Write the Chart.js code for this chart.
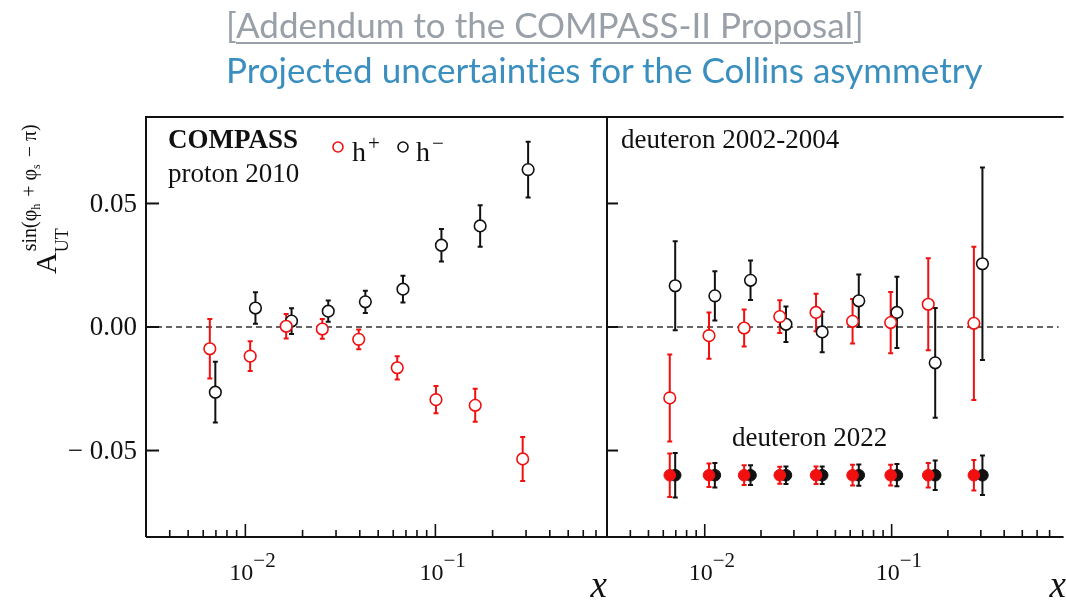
<!DOCTYPE html>
<html>
<head>
<meta charset="utf-8">
<script src="https://cdn.jsdelivr.net/npm/chart.js@4.4.1/dist/chart.umd.min.js"></script>
<style>
  html, body { margin:0; padding:0; background:#fff; overflow:hidden; }
  #wrap { position:relative; width:1066px; height:602px; }
  canvas { position:absolute; left:0; top:0; }
  .t1 { position:absolute; left:226px; top:0px; font-family:Lato, sans-serif; font-size:35px; color:#9aa0a8; white-space:nowrap; line-height:48px; font-variant-ligatures:none; }
  .t1 u { text-decoration-thickness:2px; text-underline-offset:4px; }
  .t2 { position:absolute; left:226px; top:45px; font-family:Lato, sans-serif; font-size:35px; color:#3b8fbf; white-space:nowrap; line-height:48px; font-variant-ligatures:none; }
</style>
</head>
<body>
<div id="wrap">
  <canvas id="cL" width="1066" height="602"></canvas>
  <canvas id="cR" width="1066" height="602"></canvas>
  <div class="t1" id="t1">[<u>Addendum to the COMPASS-II Proposal</u>]</div>
  <div class="t2" id="t2">Projected uncertainties for the Collins asymmetry</div>
</div>
<script>
// ---------------- DATA ----------------
// proton 2010 (left panel)
const protonXPos = [0.0065, 0.0106, 0.0164, 0.0254, 0.0395, 0.063, 0.1007, 0.162, 0.288];
const protonAPos = [-0.0088, -0.0118, 0.0003, -0.0008, -0.005, -0.0165, -0.0294, -0.0317, -0.0534];
const protonEPos = [0.012, 0.006, 0.005, 0.004, 0.004, 0.0047, 0.0055, 0.0067, 0.0089];
const protonXNeg = [0.00695, 0.0113, 0.0175, 0.0273, 0.0428, 0.0675, 0.1076, 0.172, 0.3076];
const protonANeg = [-0.0264, 0.0077, 0.0024, 0.0064, 0.0102, 0.0153, 0.0331, 0.0409, 0.0637];
const protonENeg = [0.0123, 0.0064, 0.0052, 0.0043, 0.0045, 0.0054, 0.0066, 0.0084, 0.0113];
// deuteron 2002-2004 (right panel)
const deutXPos = [0.0065, 0.01054, 0.01625, 0.0252, 0.0394, 0.0618, 0.0988, 0.157, 0.2754];
const deutAPos = [-0.0287, -0.0035, -0.0004, 0.0042, 0.0059, 0.0023, 0.0018, 0.0092, 0.0015];
const deutEPos = [0.0176, 0.0094, 0.0075, 0.0066, 0.0076, 0.009, 0.0124, 0.0186, 0.031];
const deutXNeg = [0.00695, 0.01133, 0.01758, 0.0272, 0.0425, 0.0667, 0.1067, 0.171, 0.306];
const deutANeg = [0.0167, 0.0126, 0.0189, 0.0011, -0.002, 0.0106, 0.0059, -0.0145, 0.0256];
const deutENeg = [0.018, 0.01, 0.008, 0.0072, 0.0082, 0.0106, 0.0144, 0.0222, 0.039];
// deuteron 2022 projection (right panel)
const projAPos = [-0.06, -0.06, -0.06, -0.06, -0.06, -0.06, -0.06, -0.06, -0.06];
const projEPos = [0.0088, 0.0048, 0.004, 0.0034, 0.0035, 0.0042, 0.0042, 0.005, 0.0062];
const projANeg = [-0.06, -0.06, -0.06, -0.06, -0.06, -0.06, -0.06, -0.06, -0.06];
const projENeg = [0.009, 0.005, 0.004, 0.0035, 0.0035, 0.0043, 0.0045, 0.006, 0.008];
// axes
const yTicks = [-0.05, 0, 0.05];
const yTickLabels = ['\u2212 0.05', '0.00', '0.05'];
const xMajorTicks = [0.01, 0.1];
const xMajorExp = ['\u22122', '\u22121'];

const RED = '#f01010', BLACK = '#111111';
const SERIF = '"Liberation Serif", "DejaVu Serif", serif';

function pts(xs, ys) { return xs.map((x, i) => ({ x: x, y: ys[i] })); }
function openDS(xs, ys, es, col) {
  return { data: pts(xs, ys), errors: es, borderColor: col, backgroundColor: '#fff',
    pointRadius: 5.8, pointBorderWidth: 1.6, showLine: false, pointStyle: 'circle' };
}
function filledDS(xs, ys, es, col) {
  return { data: pts(xs, ys), errors: es, borderColor: col, backgroundColor: col,
    pointRadius: 5.8, pointBorderWidth: 1, showLine: false, pointStyle: 'circle' };
}

const errorBars = {
  id: 'errorBars',
  beforeDatasetsDraw(chart) {
    const ctx = chart.ctx, xs = chart.scales.x, ys = chart.scales.y;
    chart.data.datasets.forEach(ds => {
      ctx.save();
      ctx.strokeStyle = ds.borderColor;
      ctx.lineWidth = 2;
      ds.data.forEach((p, i) => {
        const e = ds.errors[i];
        const px = xs.getPixelForValue(p.x);
        const y1 = ys.getPixelForValue(p.y + e), y2 = ys.getPixelForValue(p.y - e);
        ctx.beginPath();
        ctx.moveTo(px, y1); ctx.lineTo(px, y2);
        ctx.moveTo(px - 2.5, y1); ctx.lineTo(px + 2.5, y1);
        ctx.moveTo(px - 2.5, y2); ctx.lineTo(px + 2.5, y2);
        ctx.stroke();
      });
      ctx.restore();
    });
  }
};

function frameAndAxes(isLeft) {
  return {
    id: 'frame' + (isLeft ? 'L' : 'R'),
    beforeDatasetsDraw(chart) {
      const ctx = chart.ctx, a = chart.chartArea, ys = chart.scales.y;
      ctx.save();
      const y0 = ys.getPixelForValue(0);
      ctx.strokeStyle = '#333'; ctx.lineWidth = 1.5; ctx.setLineDash([6, 4]);
      ctx.beginPath(); ctx.moveTo(a.left, y0); ctx.lineTo(a.right, y0); ctx.stroke();
      ctx.setLineDash([]);
      ctx.restore();
    },
    afterDraw(chart) {
      const ctx = chart.ctx, a = chart.chartArea, xs = chart.scales.x, ys = chart.scales.y;
      ctx.save();
      ctx.strokeStyle = '#111'; ctx.lineWidth = 2;
      ctx.beginPath();
      ctx.moveTo(a.left, a.bottom); ctx.lineTo(a.left, a.top); ctx.lineTo(a.right + (isLeft ? 0 : 5), a.top);
      if (isLeft) ctx.lineTo(a.right, a.bottom);
      ctx.moveTo(a.left, a.bottom); ctx.lineTo(a.right + (isLeft ? 0 : 5), a.bottom);
      ctx.stroke();
      // y ticks (inward)
      yTicks.forEach((v, i) => {
        const py = ys.getPixelForValue(v);
        ctx.beginPath(); ctx.moveTo(a.left, py); ctx.lineTo(a.left + (isLeft ? 13 : 11), py); ctx.stroke();
        if (isLeft) {
          ctx.fillStyle = '#111'; ctx.font = '27px ' + SERIF;
          ctx.textAlign = 'right'; ctx.textBaseline = 'middle';
          ctx.fillText(yTickLabels[i], a.left - 9, py + 1);
        }
      });
      // x ticks: major + minor (inward from bottom)
      ctx.lineWidth = 1.6;
      for (let d = -3; d <= 0; d++) {
        for (let k = 1; k <= 9; k++) {
          const v = k * Math.pow(10, d);
          if (v < xs.min * 1.001 || v > xs.max) continue;
          const px = xs.getPixelForValue(v);
          const len = k === 1 ? 13 : 7;
          ctx.beginPath(); ctx.moveTo(px, a.bottom); ctx.lineTo(px, a.bottom - len); ctx.stroke();
        }
      }
      // x tick labels 10^n
      ctx.fillStyle = '#111'; ctx.textBaseline = 'alphabetic';
      xMajorTicks.forEach((v, i) => {
        const px = xs.getPixelForValue(v);
        ctx.font = '24px ' + SERIF; ctx.textAlign = 'right';
        ctx.fillText('10', px + 8, a.bottom + 43);
        ctx.font = '21px ' + SERIF; ctx.textAlign = 'left';
        ctx.fillText(xMajorExp[i], px + 8, a.bottom + 30);
      });
      // axis title x
      ctx.font = 'italic 37px ' + SERIF; ctx.textAlign = 'right';
      ctx.fillText('x', isLeft ? a.right : 1066, a.bottom + 60);
      ctx.restore();
    }
  };
}

const annotL = {
  id: 'annotL',
  afterDraw(chart) {
    const ctx = chart.ctx;
    ctx.save();
    ctx.fillStyle = '#111'; ctx.textAlign = 'left'; ctx.textBaseline = 'alphabetic';
    ctx.font = 'bold 27px ' + SERIF;
    ctx.fillText('COMPASS', 168, 148);
    ctx.font = '27px ' + SERIF;
    ctx.fillText('proton 2010', 168, 182);
    // legend
    ctx.lineWidth = 1.6;
    ctx.strokeStyle = RED; ctx.beginPath(); ctx.arc(338, 147, 5, 0, 2 * Math.PI); ctx.stroke();
    ctx.strokeStyle = BLACK; ctx.beginPath(); ctx.arc(403, 147, 5, 0, 2 * Math.PI); ctx.stroke();
    ctx.font = '28px ' + SERIF;
    ctx.fillText('h', 352, 161);
    ctx.fillText('h', 416, 161);
    ctx.font = '21px ' + SERIF;
    ctx.fillText('+', 368, 150);
    ctx.fillText('\u2212', 432, 150);
    // y axis title (rotated)
    ctx.translate(56, 274);
    ctx.rotate(-Math.PI / 2);
    ctx.font = '30px ' + SERIF;
    ctx.fillText('A', 0, 0);
    const wA = ctx.measureText('A').width;
    ctx.font = '18px ' + SERIF;
    ctx.fillText('UT', wA, 12);
    // superscript sin(phi_h + phi_s - pi)
    let x = wA + 1;
    const big = '20px ' + SERIF, small = '12px ' + SERIF;
    const parts = [['sin(\u03c6', big, 0], ['h', small, 4], [' + \u03c6', big, 0], ['s', small, 4], [' \u2212 \u03c0)', big, 0]];
    parts.forEach(p => {
      ctx.font = p[1];
      ctx.fillText(p[0], x, -20 + p[2]);
      x += ctx.measureText(p[0]).width + (p[2] ? 2 : 0);
    });
    ctx.restore();
  }
};

const annotR = {
  id: 'annotR',
  afterDraw(chart) {
    const ctx = chart.ctx;
    ctx.save();
    ctx.fillStyle = '#111'; ctx.textAlign = 'left'; ctx.textBaseline = 'alphabetic';
    ctx.font = '27px ' + SERIF;
    ctx.fillText('deuteron 2002-2004', 621, 148);
    ctx.fillText('deuteron 2022', 732, 446);
    ctx.restore();
  }
};

function baseOptions(pad, xmax) {
  return {
    responsive: false, animation: false, devicePixelRatio: 1,
    layout: { padding: pad },
    plugins: { legend: { display: false }, tooltip: { enabled: false } },
    scales: {
      x: { type: 'logarithmic', min: 0.003, max: xmax, display: false },
      y: { type: 'linear', min: -0.085, max: 0.085, display: false }
    },
    elements: { point: { hoverRadius: 5.8 } }
  };
}

new Chart(document.getElementById('cL'), {
  type: 'scatter',
  data: { datasets: [
    openDS(protonXPos, protonAPos, protonEPos, RED),
    openDS(protonXNeg, protonANeg, protonENeg, BLACK)
  ] },
  options: baseOptions({ left: 146, top: 117, right: 1066 - 607, bottom: 65 }, 0.80),
  plugins: [frameAndAxes(true), errorBars, annotL]
});

new Chart(document.getElementById('cR'), {
  type: 'scatter',
  data: { datasets: [
    openDS(deutXPos, deutAPos, deutEPos, RED),
    openDS(deutXNeg, deutANeg, deutENeg, BLACK),
    filledDS(deutXPos, projAPos, projEPos, RED),
    filledDS(deutXNeg, projANeg, projENeg, BLACK)
  ] },
  options: baseOptions({ left: 607, top: 117, right: 0, bottom: 65 }, 0.782),
  plugins: [frameAndAxes(false), errorBars, annotR]
});
</script>
</body>
</html>
